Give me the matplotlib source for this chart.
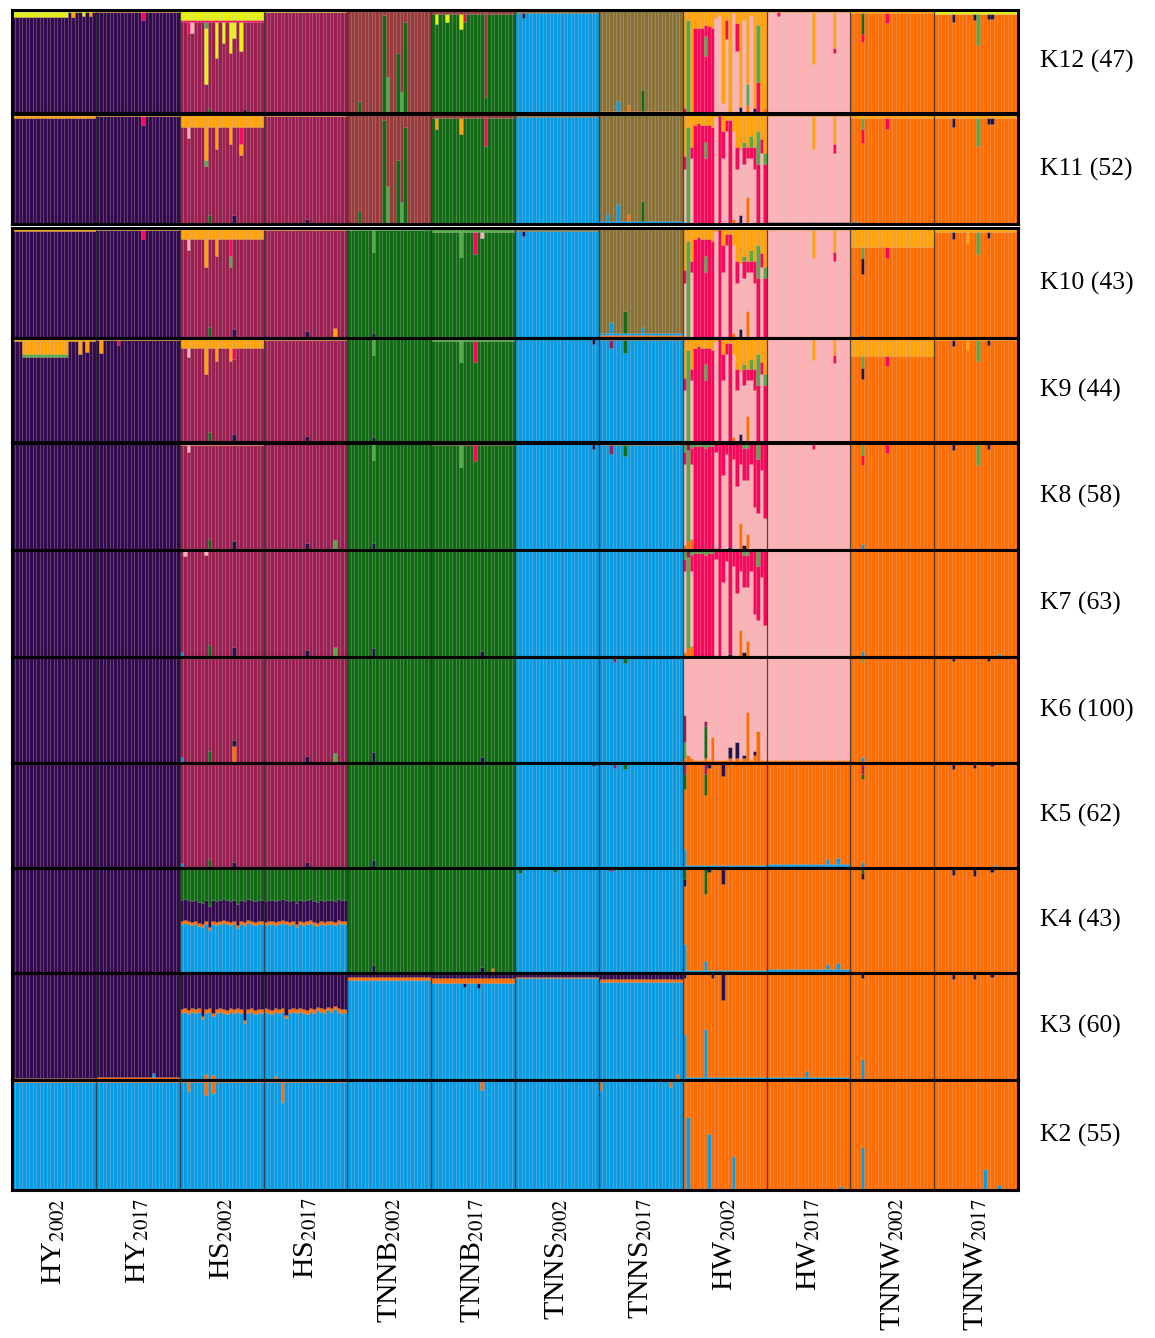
import matplotlib
matplotlib.use("Agg")
import matplotlib.pyplot as plt

plt.rcParams['font.family'] = ['Liberation Serif', 'DejaVu Serif']
plt.rcParams['mathtext.fontset'] = 'stix'

# cluster colours
COLORS = {
    'P': '#340a4e',   # purple
    'C': '#9c1f52',   # crimson
    'R': '#983b3a',   # brick
    'G': '#106b14',   # green
    'g': '#57a848',   # light green
    'B': '#0a9be2',   # blue
    'O': '#8a7135',   # olive
    'A': '#ffa20c',   # amber
    'Y': '#e8f212',   # yellow
    'K': '#f7085a',   # red-pink
    'L': '#fdb3b5',   # light pink
    'E': '#ff6c00',   # orange
    'D': '#20154a',   # dark navy
}

POP_LABELS = [r'HY$_{2002}$', r'HY$_{2017}$', r'HS$_{2002}$', r'HS$_{2017}$',
              r'TNNB$_{2002}$', r'TNNB$_{2017}$', r'TNNS$_{2002}$', r'TNNS$_{2017}$',
              r'HW$_{2002}$', r'HW$_{2017}$', r'TNNW$_{2002}$', r'TNNW$_{2017}$']
N_IND = 24
ROW_LABELS = ['K12 (47)', 'K11 (52)', 'K10 (43)', 'K9 (44)', 'K8 (58)', 'K7 (63)',
              'K6 (100)', 'K5 (62)', 'K4 (43)', 'K3 (60)', 'K2 (55)']

# HW2002 individuals (bottom -> top)
HW_K12 = [[('K', .05), ('A', .95)], [('g', .9), ('A', .1)], [('A', 1.)],
          [('K', .83), ('A', .17)], [('K', .83), ('A', .17)], [('K', .83), ('A', .17)],
          [('K', .55), ('g', .2), ('K', .1), ('A', .15)], [('K', .84), ('A', .16)], [('K', .83), ('A', .17)],
          [('L', .92), ('A', .08)], [('L', .95), ('A', .05)], [('L', .1), ('A', .9)],
          [('L', .72), ('K', .18), ('A', .1)], [('A', 1.)], [('L', .97), ('A', .03)],
          [('L', .6), ('K', .27), ('A', .13)], [('D', .06), ('A', .94)], [('L', .9), ('A', .1)],
          [('E', .08), ('g', .2), ('A', .72)], [('L', .95), ('A', .05)], [('D', .05), ('A', .95)],
          [('K', .3), ('g', .55), ('A', .15)], [('A', 1.)], [('E', .05), ('A', .95)]]
HW_K11_K9 = [[('L', .5), ('K', .12), ('A', .38)], [('g', .88), ('A', .12)], [('L', .6), ('K', .1), ('A', .3)],
             [('K', .9), ('A', .1)], [('K', .92), ('A', .08)], [('K', .9), ('A', .1)],
             [('K', .6), ('g', .15), ('K', .15), ('A', .1)], [('K', .9), ('A', .1)], [('K', .88), ('A', .12)],
             [('L', .97), ('A', .03)], [('K', 1.)], [('L', .6), ('K', .25), ('A', .15)],
             [('L', .85), ('K', .1), ('A', .05)], [('K', .95), ('A', .05)], [('E', .05), ('L', .8), ('A', .15)],
             [('L', .5), ('K', .2), ('A', .3)], [('D', .08), ('L', .6), ('A', .32)], [('L', .55), ('K', .15), ('g', .05), ('A', .25)],
             [('E', .25), ('L', .35), ('K', .1), ('A', .3)], [('L', .6), ('K', .1), ('g', .1), ('A', .2)], [('L', .5), ('K', .2), ('A', .3)],
             [('K', .55), ('g', .3), ('A', .15)], [('L', .65), ('K', .12), ('A', .23)], [('K', .55), ('g', .1), ('A', .35)]]
HW_K8_K7 = [[('E', .05), ('L', .75), ('K', .12), ('g', .08)], [('E', .08), ('g', .85), ('C', .07)], [('E', .1), ('L', .7), ('K', .15), ('g', .05)],
            [('K', .97), ('g', .03)], [('K', .97), ('g', .03)], [('K', .97), ('g', .03)],
            [('K', .95), ('g', .05)], [('K', .97), ('g', .03)], [('K', .97), ('g', .03)],
            [('E', .02), ('L', .9), ('K', .08)], [('K', 1.)], [('L', .7), ('K', .3)],
            [('L', .9), ('K', .1)], [('D', .03), ('K', .97)], [('L', .85), ('K', .15)],
            [('L', .6), ('K', .4)], [('E', .25), ('L', .55), ('K', .2)], [('D', .05), ('L', .6), ('K', .3), ('g', .05)],
            [('E', .15), ('L', .5), ('K', .3), ('g', .05)], [('L', .8), ('K', .2)], [('L', .4), ('K', .6)],
            [('L', .35), ('K', .5), ('g', .15)], [('L', .75), ('K', .25)], [('L', .3), ('K', .7)]]
HW_K6 = [[('E', .05), ('g', .15), ('C', .25), ('L', .55)], [('E', .08), ('L', .92)], [('E', .05), ('L', .95)],
         [('E', .03), ('L', .97)], [('E', .03), ('L', .97)], [('E', .03), ('L', .97)],
         [('E', .05), ('G', .3), ('C', .05), ('L', .6)], [('E', .03), ('L', .97)], [('E', .25), ('L', .75)],
         [('E', .03), ('L', .97)], [('E', .03), ('L', .97)], [('E', .03), ('L', .97)],
         [('E', .03), ('L', .97)], [('E', .05), ('D', .1), ('L', .85)], [('E', .03), ('L', .97)],
         [('E', .05), ('D', .15), ('L', .8)], [('E', .03), ('L', .97)], [('E', .05), ('D', .03), ('L', .92)],
         [('E', .48), ('L', .52)], [('E', .03), ('L', .97)], [('E', .08), ('D', .03), ('L', .89)],
         [('E', .3), ('L', .7)], [('E', .03), ('L', .97)], [('E', .03), ('L', .97)]]

# HS blue share per individual at K4 and K3
HS02_K4_BLUE = [.47, .48, .47, .46, .47, .45, .44, .47, .41, .47, .46, .47,
                .48, .47, .46, .47, .43, .47, .46, .48, .47, .46, .47, .47]
HS17_K4_BLUE = [.46, .47, .47, .46, .47, .48, .47, .46, .47, .44, .47, .46,
                .47, .48, .46, .45, .47, .46, .47, .47, .46, .48, .47, .47]
HS02_K3_BLUE = [.63, .64, .62, .64, .63, .64, .57, .63, .64, .60, .63, .64,
                .63, .62, .64, .63, .64, .63, .53, .63, .64, .62, .63, .63]
HS17_K3_BLUE = [.64, .63, .62, .64, .63, .64, .58, .63, .64, .63, .64, .63,
                .62, .64, .63, .65, .64, .63, .65, .64, .66, .64, .63, .63]

# population-level compositions per K (bottom -> top)
K12_POPS = [[('P', .98), ('Y', .02)], [('P', .98), ('A', .02)], [('C', .88), ('K', .02), ('Y', .10)],
            [('C', .98), ('Y', .02)], [('R', 1.)], [('G', .96), ('R', .04)],
            [('B', .97), ('O', .03)], [('B', .01), ('E', .01), ('O', .98)], HW_K12,
            [('L', .98), ('A', .02)], [('E', .97), ('A', .03)], [('E', .96), ('Y', .04)]]
K11_POPS = [[('P', .96), ('A', .04)], [('P', .98), ('A', .02)], [('C', .88), ('A', .12)],
            [('C', .98), ('A', .02)], [('R', 1.)], [('G', .96), ('R', .04)],
            [('B', .97), ('O', .03)], [('B', .03), ('O', .97)], HW_K11_K9,
            [('D', .02), ('L', .96), ('A', .02)], [('E', .96), ('A', .04)], [('E', .96), ('A', .04)]]
K10_POPS = [[('P', .97), ('A', .03)], [('D', .01), ('P', .97), ('A', .02)], [('C', .9), ('A', .1)],
            [('D', .01), ('C', .97), ('A', .02)], [('G', .98), ('g', .02)], [('G', .96), ('g', .04)],
            [('B', .97), ('O', .03)], [('E', .03), ('B', .02), ('O', .95)], HW_K11_K9,
            [('D', .01), ('L', .97), ('A', .02)], [('E', .83), ('A', .17)], [('E', .96), ('A', .04)]]
K9_POPS = [[('P', .97), ('A', .03)], [('D', .01), ('P', .97), ('A', .02)], [('C', .9), ('A', .1)],
           [('D', .01), ('C', .97), ('A', .02)], [('G', .99), ('g', .01)], [('G', .97), ('g', .03)],
           [('B', .99), ('O', .01)], [('B', .98), ('O', .02)], HW_K11_K9,
           [('D', .01), ('L', .98), ('A', .01)], [('E', .83), ('A', .17)], [('E', .98), ('A', .02)]]
K8_POPS = [[('P', .99), ('A', .01)], [('D', .01), ('P', .99)], [('C', .98), ('A', .02)],
           [('D', .01), ('C', .99)], [('G', .99), ('A', .01)], [('G', .98), ('R', .02)],
           [('B', .99), ('O', .01)], [('B', .98), ('O', .02)], HW_K8_K7,
           [('D', .01), ('L', .98), ('C', .01)], [('E', .99), ('C', .01)], [('E', .99), ('C', .01)]]
K7_POPS = [[('P', 1.)], [('D', .01), ('P', .99)], [('B', .01), ('C', .99)],
           [('D', .01), ('C', .99)], [('G', 1.)], [('D', .01), ('G', .99)],
           [('B', 1.)], [('B', 1.)], HW_K8_K7,
           [('D', .01), ('L', .99)], [('E', 1.)], [('E', 1.)]]
K6_POPS = [[('P', 1.)], [('D', .01), ('P', .99)], [('B', .01), ('C', .99)],
           [('D', .01), ('C', .99)], [('G', 1.)], [('D', .01), ('G', .99)],
           [('B', 1.)], [('B', 1.)], HW_K6,
           [('E', .03), ('L', .97)], [('E', 1.)], [('E', 1.)]]
K5_POPS = [[('P', 1.)], [('D', .01), ('P', .99)], [('B', .01), ('C', .99)],
           [('D', .01), ('C', .99)], [('G', 1.)], [('D', .01), ('G', .99)],
           [('B', 1.)], [('B', 1.)], [('B', .03), ('E', .97)],
           [('B', .04), ('E', .96)], [('E', 1.)], [('E', 1.)]]
K4_POPS = [[('P', 1.)], [('D', .01), ('P', .99)],
           [[('B', b), ('E', .025), ('P', .2), ('G', .775 - b + .47)] for b in HS02_K4_BLUE],
           [[('B', b), ('E', .025), ('P', .2), ('G', .775 - b + .47)] for b in HS17_K4_BLUE],
           [('G', 1.)], [('B', .01), ('G', .99)],
           [('B', 1.)], [('B', 1.)], [('B', .03), ('E', .97)],
           [('B', .04), ('E', .96)], [('E', 1.)], [('E', 1.)]]
K3_POPS = [[('E', .02), ('P', .98)], [('E', .025), ('P', .975)],
           [[('B', b), ('E', .03), ('P', .97 - b)] for b in HS02_K3_BLUE],
           [[('B', b), ('E', .03), ('P', .97 - b)] for b in HS17_K3_BLUE],
           [('B', .93), ('E', .03), ('P', .04)], [('B', .91), ('E', .04), ('P', .05)],
           [('B', .95), ('E', .01), ('P', .04)], [('B', .92), ('E', .02), ('P', .06)],
           [('B', .03), ('E', .97)], [('B', .03), ('E', .97)], [('E', 1.)], [('E', 1.)]]
K2_POPS = [[('B', .98), ('E', .02)], [('B', .98), ('E', .02)], [('B', .98), ('E', .02)],
           [('B', .98), ('E', .02)], [('B', 1.)], [('B', .99), ('E', .01)],
           [('B', 1.)], [('B', .99), ('E', .01)], [('B', .01), ('E', .99)],
           [('B', .01), ('E', .99)], [('B', .01), ('E', .99)], [('B', .01), ('E', .99)]]

# notable admixed individuals: (pop, individual, cluster, share, side)
K12_SPIKES = [(0, i, 'Y', .05, 'top') for i in range(0, 16)] + \
             [(0, 17, 'A', .05, 'top'), (0, 20, 'Y', .04, 'top'), (0, 22, 'A', .04, 'top'),
              (2, 7, 'Y', .6, 'top'), (2, 7, 'g', .05, 'top'), (2, 10, 'Y', .35, 'top'), (2, 12, 'Y', .2, 'top'),
              (2, 14, 'Y', .3, 'top'), (2, 15, 'Y', .15, 'top'), (2, 17, 'Y', .28, 'top'), (2, 2, 'K', .1, 'top'),
              (2, 3, 'L', .1, 'top'), (2, 8, 'G', .05, 'bot'), (2, 18, 'D', .04, 'bot'), (1, 13, 'K', .08, 'top'),
              (4, 3, 'G', .12, 'bot'), (4, 10, 'G', .95, 'bot'), (4, 11, 'g', .35, 'bot'), (4, 14, 'G', .58, 'bot'),
              (4, 15, 'g', .2, 'bot'), (4, 16, 'G', .88, 'bot'), (5, 1, 'Y', .1, 'top'), (5, 4, 'Y', .08, 'top'),
              (5, 8, 'Y', .14, 'top'), (5, 9, 'K', .08, 'top'), (5, 15, 'R', .8, 'top'), (7, 5, 'B', .1, 'bot'),
              (7, 8, 'E', .06, 'bot'), (7, 12, 'G', .2, 'bot'), (7, 4, 'O', .05, 'bot'), (9, 13, 'A', .5, 'top'),
              (9, 19, 'A', .35, 'top'), (9, 19, 'K', .05, 'top'), (9, 3, 'K', .04, 'top'), (10, 3, 'G', .2, 'top'),
              (10, 3, 'K', .08, 'top'), (10, 10, 'K', .1, 'top'), (11, 5, 'D', .08, 'top'), (11, 11, 'D', .06, 'top'),
              (11, 12, 'g', .3, 'top'), (11, 15, 'D', .05, 'top'), (11, 16, 'D', .05, 'top'), (6, 2, 'D', .05, 'top')]
K11_SPIKES = [(2, 7, 'A', .3, 'top'), (2, 7, 'g', .05, 'top'), (2, 10, 'A', .2, 'top'), (2, 14, 'A', .15, 'top'),
              (2, 17, 'K', .15, 'top'), (2, 17, 'A', .1, 'top'), (2, 2, 'L', .1, 'top'), (2, 8, 'G', .08, 'bot'),
              (2, 15, 'D', .08, 'bot'), (3, 12, 'D', .05, 'bot'), (1, 13, 'K', .08, 'top'),
              (4, 3, 'G', .12, 'bot'), (4, 10, 'G', .95, 'bot'), (4, 11, 'g', .35, 'bot'), (4, 14, 'G', .58, 'bot'),
              (4, 15, 'g', .2, 'bot'), (4, 16, 'G', .88, 'bot'), (5, 1, 'A', .1, 'top'), (5, 8, 'A', .14, 'top'),
              (5, 15, 'K', .25, 'top'), (7, 5, 'B', .15, 'bot'), (7, 8, 'E', .06, 'bot'), (7, 12, 'G', .18, 'bot'),
              (7, 2, 'B', .06, 'bot'), (9, 13, 'A', .3, 'top'), (9, 19, 'A', .25, 'top'), (9, 19, 'K', .08, 'top'),
              (10, 3, 'g', .1, 'top'), (10, 3, 'K', .12, 'top'), (10, 10, 'K', .1, 'top'), (11, 5, 'D', .08, 'top'),
              (11, 12, 'g', .25, 'top'), (11, 15, 'D', .05, 'top'), (11, 16, 'D', .05, 'top'), (10, 1, 'B', .03, 'bot')]
K10_SPIKES = [(2, 7, 'A', .25, 'top'), (2, 10, 'A', .15, 'top'), (2, 14, 'K', .15, 'top'), (2, 14, 'g', .1, 'top'),
              (2, 2, 'L', .1, 'top'), (2, 8, 'G', .1, 'bot'), (2, 15, 'D', .08, 'bot'), (3, 12, 'D', .05, 'bot'),
              (3, 20, 'A', .08, 'bot'), (1, 13, 'K', .08, 'top'), (4, 7, 'g', .2, 'top'), (4, 7, 'D', .05, 'bot'),
              (5, 8, 'g', .22, 'top'), (5, 12, 'K', .2, 'top'), (5, 14, 'L', .05, 'top'), (6, 2, 'D', .04, 'top'),
              (7, 3, 'B', .1, 'bot'), (7, 7, 'G', .2, 'bot'), (7, 12, 'B', .05, 'bot'), (9, 13, 'A', .25, 'top'),
              (9, 19, 'A', .2, 'top'), (9, 19, 'K', .08, 'top'), (10, 3, 'g', .1, 'top'), (10, 3, 'D', .15, 'top'),
              (10, 10, 'K', .1, 'top'), (11, 5, 'D', .06, 'top'), (11, 12, 'g', .2, 'top'), (11, 15, 'D', .05, 'top'),
              (11, 9, 'A', .1, 'top'), (10, 3, 'B', .03, 'bot')]
K9_SPIKES = [(0, i, 'A', .12, 'top') for i in range(3, 16)] + \
            [(0, i, 'g', .03, 'top') for i in range(3, 16)] + \
            [(0, 19, 'A', .12, 'top'), (0, 21, 'A', .1, 'top'), (1, 1, 'A', .12, 'top'), (1, 6, 'K', .05, 'top'),
             (2, 7, 'A', .25, 'top'), (2, 10, 'A', .12, 'top'), (2, 14, 'A', .12, 'top'), (2, 15, 'K', .1, 'top'),
             (2, 2, 'L', .08, 'top'), (2, 8, 'G', .1, 'bot'), (2, 15, 'D', .08, 'bot'), (3, 12, 'D', .05, 'bot'),
             (4, 7, 'g', .15, 'top'), (4, 7, 'D', .05, 'bot'), (5, 8, 'g', .2, 'top'), (5, 12, 'K', .2, 'top'),
             (6, 22, 'D', .05, 'top'), (7, 3, 'C', .08, 'top'), (7, 7, 'G', .12, 'top'),
             (9, 13, 'A', .2, 'top'), (9, 19, 'A', .15, 'top'), (9, 19, 'K', .08, 'top'), (10, 3, 'g', .12, 'top'),
             (10, 3, 'D', .1, 'top'), (10, 10, 'K', .1, 'top'), (11, 5, 'D', .06, 'top'), (11, 12, 'g', .2, 'top'),
             (11, 15, 'D', .05, 'top'), (11, 9, 'A', .1, 'top')]
K8_SPIKES = [(2, 2, 'L', .06, 'top'), (2, 8, 'G', .1, 'bot'), (2, 15, 'D', .08, 'bot'), (3, 12, 'D', .06, 'bot'),
             (3, 20, 'g', .08, 'bot'), (4, 7, 'g', .15, 'top'), (4, 7, 'D', .07, 'bot'), (5, 8, 'g', .2, 'top'),
             (5, 12, 'K', .15, 'top'), (6, 22, 'D', .05, 'top'), (7, 3, 'C', .08, 'top'), (7, 7, 'G', .1, 'top'),
             (9, 13, 'K', .05, 'top'), (10, 3, 'g', .1, 'top'), (10, 3, 'K', .1, 'top'), (10, 10, 'K', .08, 'top'),
             (11, 5, 'D', .06, 'top'), (11, 12, 'g', .2, 'top'), (11, 15, 'D', .05, 'top'), (10, 3, 'B', .06, 'bot')]
K7_SPIKES = [(2, 1, 'L', .06, 'top'), (2, 7, 'L', .05, 'top'), (2, 0, 'B', .04, 'bot'), (2, 8, 'G', .1, 'bot'),
             (2, 15, 'D', .08, 'bot'), (3, 12, 'D', .06, 'bot'), (3, 20, 'g', .08, 'bot'), (4, 7, 'D', .08, 'bot'),
             (5, 14, 'D', .05, 'bot'), (10, 3, 'B', .06, 'bot'), (11, 18, 'B', .03, 'bot')]
K6_SPIKES = [(2, 0, 'B', .05, 'bot'), (2, 8, 'G', .1, 'bot'), (2, 15, 'E', .15, 'bot'), (2, 15, 'D', .06, 'bot'),
             (3, 12, 'D', .06, 'bot'), (3, 20, 'g', .08, 'bot'), (4, 7, 'D', .1, 'bot'), (5, 14, 'D', .05, 'bot'),
             (7, 4, 'C', .05, 'top'), (7, 7, 'G', .06, 'top'), (10, 3, 'B', .06, 'bot'), (10, 3, 'g', .05, 'top'),
             (11, 5, 'D', .04, 'top'), (11, 15, 'D', .04, 'top')]
K5_SPIKES = [(2, 0, 'B', .04, 'bot'), (2, 8, 'G', .08, 'bot'), (2, 15, 'D', .05, 'bot'), (3, 12, 'D', .05, 'bot'),
             (4, 7, 'D', .08, 'bot'), (6, 22, 'D', .03, 'top'), (7, 4, 'C', .05, 'top'), (7, 7, 'G', .06, 'top'),
             (8, 0, 'C', .1, 'top'), (8, 0, 'G', .15, 'top'), (8, 6, 'C', .1, 'top'), (8, 6, 'G', .2, 'top'),
             (8, 0, 'B', .15, 'bot'), (8, 7, 'D', .05, 'top'), (8, 11, 'D', .12, 'top'), (9, 17, 'B', .05, 'bot'),
             (9, 20, 'B', .06, 'bot'), (10, 3, 'C', .1, 'top'), (10, 3, 'G', .05, 'top'), (10, 3, 'B', .06, 'bot'),
             (11, 5, 'D', .06, 'top'), (11, 11, 'D', .05, 'top'), (11, 16, 'D', .03, 'top'), (11, 17, 'B', .03, 'bot')]
K4_SPIKES = [(4, 7, 'D', .08, 'bot'), (5, 14, 'D', .05, 'bot'), (5, 17, 'E', .04, 'bot'), (6, 1, 'G', .05, 'top'),
             (6, 11, 'G', .04, 'top'), (7, 3, 'C', .03, 'top'), (8, 0, 'G', .1, 'top'), (8, 0, 'D', .07, 'top'),
             (8, 6, 'G', .25, 'top'), (8, 0, 'B', .25, 'bot'), (8, 6, 'B', .08, 'bot'), (8, 11, 'D', .15, 'top'),
             (8, 7, 'D', .04, 'top'), (9, 17, 'B', .05, 'bot'), (9, 20, 'B', .06, 'bot'), (10, 3, 'G', .05, 'top'),
             (10, 3, 'D', .05, 'top'), (11, 5, 'D', .07, 'top'), (11, 11, 'D', .08, 'top'), (11, 16, 'D', .04, 'top')]
K3_SPIKES = [(1, 16, 'B', .04, 'bot'), (2, 7, 'E', .06, 'bot'), (2, 9, 'E', .05, 'bot'), (3, 3, 'E', .04, 'bot'),
             (5, 9, 'P', .04, 'top'), (5, 13, 'P', .05, 'top'), (7, 22, 'E', .06, 'bot'), (8, 0, 'B', .4, 'bot'),
             (8, 6, 'B', .45, 'bot'), (8, 0, 'D', .05, 'top'), (8, 11, 'D', .25, 'top'), (8, 8, 'D', .05, 'top'),
             (9, 11, 'B', .05, 'bot'), (10, 3, 'B', .2, 'bot'), (10, 3, 'D', .05, 'top'), (11, 5, 'D', .06, 'top'),
             (11, 11, 'D', .06, 'top'), (11, 16, 'D', .04, 'top')]
K2_SPIKES = [(2, 2, 'E', .08, 'top'), (2, 7, 'E', .12, 'top'), (2, 9, 'E', .1, 'top'), (3, 5, 'E', .18, 'top'),
             (5, 14, 'E', .08, 'top'), (7, 0, 'E', .08, 'top'), (7, 20, 'E', .05, 'top'), (8, 1, 'B', .65, 'bot'),
             (8, 7, 'B', .5, 'bot'), (8, 14, 'B', .3, 'bot'), (9, 21, 'B', .03, 'bot'), (10, 3, 'B', .38, 'bot'),
             (11, 14, 'B', .18, 'bot'), (11, 18, 'B', .04, 'bot')]

ROW_POPS = [K12_POPS, K11_POPS, K10_POPS, K9_POPS, K8_POPS, K7_POPS, K6_POPS,
            K5_POPS, K4_POPS, K3_POPS, K2_POPS]
ROW_SPIKES = [K12_SPIKES, K11_SPIKES, K10_SPIKES, K9_SPIKES, K8_SPIKES, K7_SPIKES, K6_SPIKES,
              K5_SPIKES, K4_SPIKES, K3_SPIKES, K2_SPIKES]

# layout in pixels
W, H = 1155, 1338
X0, X1 = 12, 1018
ROW_TOP = [10, 114, 228, 338, 443, 550, 657, 763, 868, 973, 1080]
ROW_BOT = [113, 224, 338, 442, 550, 657, 763, 868, 973, 1080, 1190]


def individuals(pops, spikes):
    inds = []
    for comp in pops:
        if isinstance(comp[0], list):
            inds.append([list(c) for c in comp])
        else:
            inds.append([list(comp) for _ in range(N_IND)])
    for p, j, cl, f, side in spikes:
        segs = inds[p][j]
        k = max(range(len(segs)), key=lambda s: segs[s][1])
        segs[k] = (segs[k][0], segs[k][1] - f)
        segs.insert(k + 1 if side == 'top' else k, (cl, f))
    return inds


fig = plt.figure(figsize=(W / 100, H / 100), dpi=100)

for r in range(len(ROW_LABELS)):
    ax = fig.add_axes([X0 / W, 1 - ROW_BOT[r] / H, (X1 - X0) / W, (ROW_BOT[r] - ROW_TOP[r]) / H])
    inds = individuals(ROW_POPS[r], ROW_SPIKES[r])
    xs, bots, hs, cols = [], [], [], []
    for p in range(len(POP_LABELS)):
        for j in range(N_IND):
            b = 0.0
            for cl, f in inds[p][j]:
                xs.append(p * N_IND + j + 0.5)
                bots.append(b)
                hs.append(f)
                cols.append(COLORS[cl])
                b += f
    ax.bar(xs, hs, bottom=bots, width=1.0, color=cols, edgecolor=(0, 0, 0, 0.07), linewidth=0.4)
    for p in range(1, len(POP_LABELS)):
        ax.axvline(p * N_IND, color='#2a2a2a', lw=0.9, alpha=0.8)
    ax.set_xlim(0, N_IND * len(POP_LABELS))
    ax.set_ylim(0, 1)
    ax.set_xticks([])
    ax.set_yticks([])
    for s in ax.spines.values():
        s.set_linewidth(2.2)
        s.set_color('black')
    fig.text(1040 / W, 1 - (ROW_TOP[r] + ROW_BOT[r]) / 2 / H, ROW_LABELS[r],
             fontsize=18.5, va='center', ha='left')

for p, lab in enumerate(POP_LABELS):
    xc = X0 + (p + 0.5) * (X1 - X0) / len(POP_LABELS)
    fig.text(xc / W, 1 - 1198 / H, lab, rotation=90, ha='center', va='top', fontsize=21.5)

fig.savefig('out.png', dpi=100)
